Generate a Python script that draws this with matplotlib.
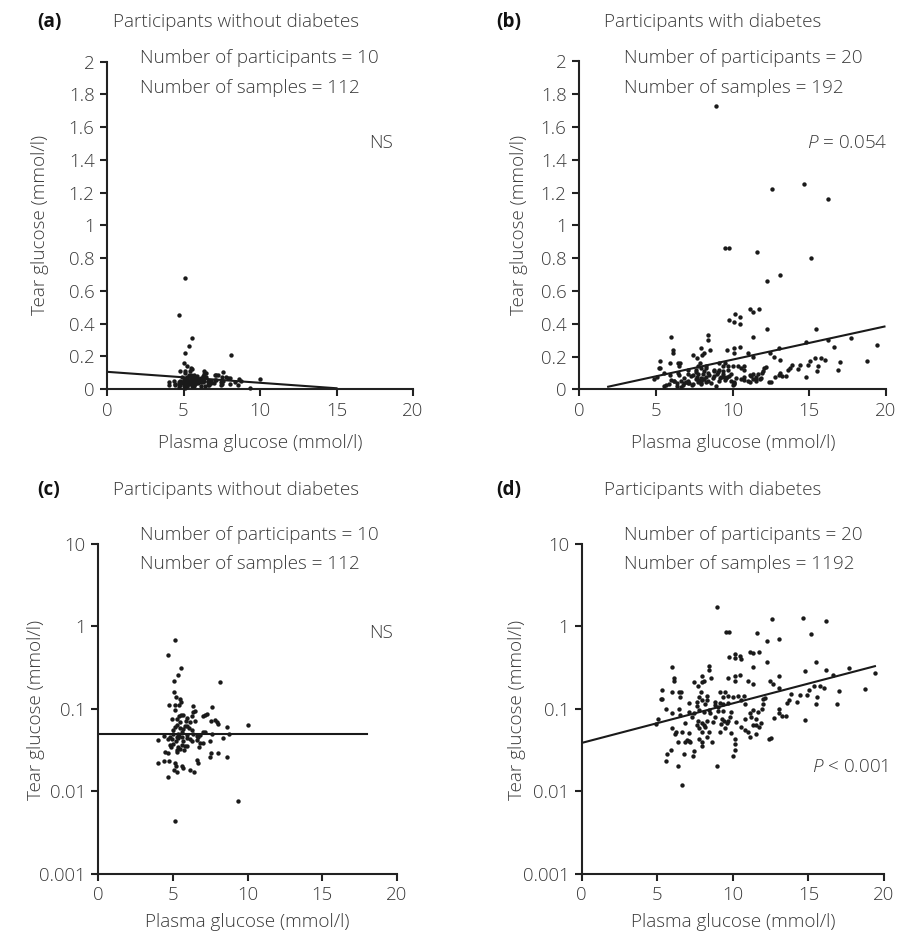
import matplotlib
matplotlib.use("Agg")
import matplotlib.pyplot as plt
import numpy as np
from matplotlib.ticker import FixedLocator, FixedFormatter

plt.rcParams['font.family'] = ['Open Sans', 'DejaVu Sans']
plt.rcParams['font.weight'] = 'light'
plt.rcParams['mathtext.fontset'] = 'custom'
plt.rcParams['mathtext.rm'] = 'Open Sans:light'
plt.rcParams['mathtext.it'] = 'Open Sans:italic:light'

# ---------------- data ----------------
# participants without diabetes (plasma glucose, tear glucose)
nd_x = [5.13, 4.68, 5.53, 5.33, 5.09, 8.12, 5.06, 5.20, 5.46, 5.53,
        4.75, 5.13, 5.42, 6.36, 7.58, 5.13, 6.47, 6.31, 5.69, 5.51,
        5.38, 7.14, 7.25, 7.03, 6.29, 4.93, 5.24, 5.91, 5.84, 6.47,
        7.54, 7.81, 7.92, 5.47, 5.24, 5.13, 5.96, 6.09, 8.63, 9.99,
        8.03, 5.02, 5.69, 6.25, 7.03, 7.58, 8.74, 4.40, 4.80, 5.24,
        5.42, 5.58, 5.91, 6.58, 6.80, 6.69, 8.36, 4.02, 4.68, 4.91,
        5.35, 5.20, 6.13, 6.25, 6.98, 6.80, 7.47, 4.80, 5.02, 5.58,
        5.35, 5.80, 5.96, 6.76, 5.24, 5.47, 4.46, 4.68, 5.29, 5.73,
        8.03, 7.54, 7.47, 8.59, 4.02, 4.42, 4.75, 5.13, 5.20, 5.06,
        5.24, 5.58, 5.69, 6.13, 6.42, 6.58, 6.69, 4.68, 9.37, 5.13,
        5.35, 5.58, 5.02, 6.36, 5.96, 5.69, 6.58, 7.14, 5.47, 6.13,
        5.80, 4.84]
nd_y = [0.68, 0.45, 0.31, 0.26, 0.22, 0.21, 0.16, 0.14, 0.13, 0.12,
        0.11, 0.11, 0.11, 0.107, 0.106, 0.097, 0.095, 0.092, 0.084, 0.085,
        0.083, 0.085, 0.087, 0.083, 0.081, 0.076, 0.075, 0.077, 0.072, 0.072,
        0.071, 0.073, 0.069, 0.069, 0.063, 0.060, 0.062, 0.059, 0.061, 0.064,
        0.066, 0.055, 0.057, 0.055, 0.052, 0.050, 0.050, 0.047, 0.046, 0.046,
        0.047, 0.045, 0.048, 0.047, 0.048, 0.045, 0.044, 0.042, 0.043, 0.043,
        0.044, 0.041, 0.043, 0.041, 0.039, 0.038, 0.041, 0.036, 0.037, 0.036,
        0.034, 0.035, 0.035, 0.034, 0.032, 0.033, 0.030, 0.029, 0.030, 0.032,
        0.029, 0.029, 0.026, 0.026, 0.022, 0.023, 0.023, 0.022, 0.020, 0.018,
        0.017, 0.020, 0.019, 0.018, 0.017, 0.024, 0.022, 0.015, 0.0076, 0.0043,
        0.050, 0.053, 0.049, 0.050, 0.044, 0.041, 0.042, 0.053, 0.058, 0.069,
        0.062, 0.034]

# participants with diabetes
d_x = [12.57, 14.66, 16.19, 15.14, 12.24, 13.07, 12.24, 15.47, 14.77, 16.19,
       17.69, 19.39, 13.03, 12.46, 12.68, 13.07, 16.62, 15.36, 15.79, 16.01,
       15.03, 16.99, 18.73, 13.88, 14.42, 14.92, 15.58, 12.15, 12.02, 13.72,
       13.61, 14.27, 15.53, 16.88, 11.98, 13.07, 13.03, 12.74, 13.22, 13.51,
       14.77, 12.52, 12.37,
       8.95, 9.52, 9.74, 11.61, 9.74, 10.17, 10.48, 10.13, 10.52, 11.11,
       11.33, 11.70, 11.33, 5.99, 6.10, 6.10, 8.43, 8.43, 7.95, 8.56,
       7.45, 7.69, 7.99, 8.12, 9.65, 10.13, 10.48, 10.13, 11.00, 11.33,
       5.29, 5.23, 5.29, 5.95, 6.47, 6.60, 7.91, 9.15, 9.48, 6.51,
       5.55, 5.95, 6.42, 10.02, 10.35, 10.74, 7.62, 7.95, 8.28, 8.82,
       9.15, 7.62, 8.17, 8.82, 9.37, 9.69, 10.56, 10.78, 7.40, 7.73,
       8.06, 8.39, 9.00, 9.37, 9.91, 8.82, 9.26, 11.11, 11.33, 11.65,
       11.91, 6.86, 7.69, 7.95, 8.28, 8.06, 9.43, 9.58, 9.65, 11.54,
       5.99, 6.21, 6.17, 7.62, 7.78, 7.95, 8.39, 9.21, 9.15, 10.56,
       10.78, 11.00, 11.33, 11.54, 11.76, 6.97, 7.08, 7.19, 6.86, 7.73,
       7.95, 8.28, 8.61, 6.38, 10.13, 10.13, 10.13, 5.88, 5.66, 5.55,
       6.75, 7.41, 7.34, 7.95, 10.02, 6.38, 8.95, 6.64,
       7.08, 7.30, 8.50, 8.71, 9.04, 9.80, 10.24, 10.78, 11.22, 11.87,
       6.64, 7.08, 8.17, 9.48, 9.91, 11.11, 11.54, 8.28, 7.73, 9.37,
       9.69, 7.08, 6.53, 4.90, 5.05]
d_y = [1.22, 1.25, 1.16, 0.80, 0.66, 0.70, 0.37, 0.37, 0.29, 0.30,
       0.31, 0.27, 0.25, 0.22, 0.20, 0.18, 0.26, 0.19, 0.19, 0.18,
       0.17, 0.165, 0.175, 0.150, 0.146, 0.146, 0.14, 0.137, 0.133, 0.127,
       0.117, 0.122, 0.113, 0.115, 0.113, 0.100, 0.090, 0.078, 0.081, 0.083,
       0.074, 0.044, 0.043,
       1.73, 0.86, 0.86, 0.84, 0.42, 0.46, 0.44, 0.41, 0.40, 0.49,
       0.47, 0.49, 0.32, 0.32, 0.24, 0.22, 0.33, 0.30, 0.25, 0.24,
       0.21, 0.19, 0.21, 0.22, 0.24, 0.25, 0.26, 0.22, 0.22, 0.20,
       0.17, 0.13, 0.13, 0.16, 0.16, 0.16, 0.16, 0.16, 0.16, 0.14,
       0.10, 0.088, 0.10, 0.14, 0.145, 0.145, 0.12, 0.127, 0.127, 0.12,
       0.117, 0.108, 0.113, 0.11, 0.113, 0.117, 0.127, 0.115, 0.088, 0.096,
       0.092, 0.098, 0.094, 0.094, 0.092, 0.080, 0.076, 0.090, 0.096, 0.092,
       0.100, 0.068, 0.072, 0.068, 0.072, 0.063, 0.072, 0.068, 0.072, 0.076,
       0.059, 0.053, 0.049, 0.063, 0.058, 0.053, 0.053, 0.066, 0.053, 0.061,
       0.056, 0.053, 0.063, 0.063, 0.061, 0.042, 0.041, 0.040, 0.040, 0.043,
       0.040, 0.046, 0.040, 0.040, 0.043, 0.037, 0.032, 0.032, 0.028, 0.023,
       0.028, 0.031, 0.027, 0.035, 0.027, 0.020, 0.020, 0.012,
       0.092, 0.080, 0.088, 0.069, 0.105, 0.080, 0.070, 0.076, 0.080, 0.068,
       0.053, 0.051, 0.061, 0.058, 0.051, 0.046, 0.050, 0.145, 0.140, 0.140,
       0.145, 0.117, 0.085, 0.065, 0.075]

# regression lines (start x, end x, intercept, slope)
line_a = (0.0, 15.0, 0.105, -0.0067)           # linear
line_b = (1.9, 19.9, -0.023, 0.0204)           # linear
line_c = (0.0, 18.0, 0.049, 0.0)               # log10 y = log10(a) + b*x
line_d = (0.0, 19.4, 0.0386, 0.048)

x_ticks = [0, 5, 10, 15, 20]
lin_yticks = [0, 0.2, 0.4, 0.6, 0.8, 1, 1.2, 1.4, 1.6, 1.8, 2]
lin_ylabels = ['0', '0.2', '0.4', '0.6', '0.8', '1', '1.2', '1.4', '1.6', '1.8', '2']
log_yticks = [0.001, 0.01, 0.1, 1, 10]
log_ylabels = ['0.001', '0.01', '0.1', '1', '10']

titles = ['Participants without diabetes', 'Participants with diabetes',
          'Participants without diabetes', 'Participants with diabetes']
n_part = ['Number of participants = 10', 'Number of participants = 20',
          'Number of participants = 10', 'Number of participants = 20']
n_samp = ['Number of samples = 112', 'Number of samples = 192',
          'Number of samples = 112', 'Number of samples = 1192']
stat_txt = ['NS', '$\\it{P}$ = 0.054', 'NS', '$\\it{P}$ < 0.001']
panel_lbl = ['(a)', '(b)', '(c)', '(d)']

# ---------------- figure ----------------
W, H = 897, 940
fig = plt.figure(figsize=(W / 100, H / 100), dpi=100)
TXT = '#3a3a3a'
AX = '#222222'
FS = 13.6
TFS = 13.4


def fx(p):
    return p / W


def fy(p):
    return 1 - p / H


def make_ax(x0, x1, ytop, ybot):
    return fig.add_axes([fx(x0), fy(ybot), (x1 - x0) / W, (ybot - ytop) / H])


axes = [make_ax(107, 413, 61.7, 389),
        make_ax(579, 886, 61.5, 389.3),
        make_ax(98.3, 397, 544, 873.7),
        make_ax(581.7, 884, 544, 873.7)]

data = [(nd_x, nd_y), (d_x, d_y), (nd_x, nd_y), (d_x, d_y)]
lines = [line_a, line_b, line_c, line_d]

for i, ax in enumerate(axes):
    xs, ys = data[i]
    ax.scatter(xs, ys, s=10, color='#1a1a1a', linewidths=0, zorder=3, clip_on=False)
    x0, x1, a, b = lines[i]
    lx = np.array([x0, x1])
    if i < 2:
        ly = a + b * lx
    else:
        ly = a * 10 ** (b * lx)
    ax.plot(lx, ly, color='#1a1a1a', lw=1.5, zorder=2)
    ax.set_xlim(0, 20)
    if i < 2:
        ax.set_ylim(0, 2)
        ax.yaxis.set_major_locator(FixedLocator(lin_yticks))
        ax.yaxis.set_major_formatter(FixedFormatter(lin_ylabels))
    else:
        ax.set_yscale('log')
        ax.set_ylim(0.001, 10)
        ax.yaxis.set_major_locator(FixedLocator(log_yticks))
        ax.yaxis.set_major_formatter(FixedFormatter(log_ylabels))
        ax.yaxis.set_minor_locator(FixedLocator([]))
    ax.xaxis.set_major_locator(FixedLocator(x_ticks))
    ax.set_xticklabels([str(t) for t in x_ticks])
    for s in ['top', 'right']:
        ax.spines[s].set_visible(False)
    for s in ['left', 'bottom']:
        ax.spines[s].set_linewidth(1.5)
        ax.spines[s].set_color(AX)
    ax.tick_params(direction='out', length=5, width=1.5, color=AX,
                   labelsize=TFS, labelcolor=TXT, pad=4)
    ax.set_facecolor('none')

# panel texts
top_rows = [(22, 58, 88), (22, 58, 88), (490, 535, 564), (490, 535, 564)]
lefts = [(37, 113, 140), (496, 604, 624), (37, 113, 140), (496, 604, 624)]
for i in range(4):
    ty, py, sy = top_rows[i]
    lx0, tx, nx = lefts[i]
    fig.text(fx(lx0), fy(ty), panel_lbl[i], fontsize=FS, fontweight='bold',
             color='#111111', va='center', ha='left')
    fig.text(fx(tx), fy(ty), titles[i], fontsize=FS, color=TXT, va='center', ha='left')
    fig.text(fx(nx), fy(py), n_part[i], fontsize=FS, color=TXT, va='center', ha='left')
    fig.text(fx(nx), fy(sy), n_samp[i], fontsize=FS, color=TXT, va='center', ha='left')

# statistics labels
fig.text(fx(381), fy(143), stat_txt[0], fontsize=FS, color=TXT, va='center', ha='center')
fig.text(fx(888), fy(143), stat_txt[1], fontsize=FS, color=TXT, va='center', ha='right')
fig.text(fx(381), fy(633), stat_txt[2], fontsize=FS, color=TXT, va='center', ha='center')
fig.text(fx(888), fy(767), stat_txt[3], fontsize=FS, color=TXT, va='center', ha='right')

# axis labels
xl = [(260, 443), (733, 443), (247, 922), (733, 922)]
yl = [(40, 225), (519, 225), (36, 710), (517, 710)]
for i in range(4):
    fig.text(fx(xl[i][0]), fy(xl[i][1]), 'Plasma glucose (mmol/l)', fontsize=FS,
             color=TXT, va='center', ha='center')
    fig.text(fx(yl[i][0]), fy(yl[i][1]), 'Tear glucose (mmol/l)', fontsize=FS,
             color=TXT, va='center', ha='center', rotation=90)

fig.savefig('out.png', dpi=100, facecolor='white')
